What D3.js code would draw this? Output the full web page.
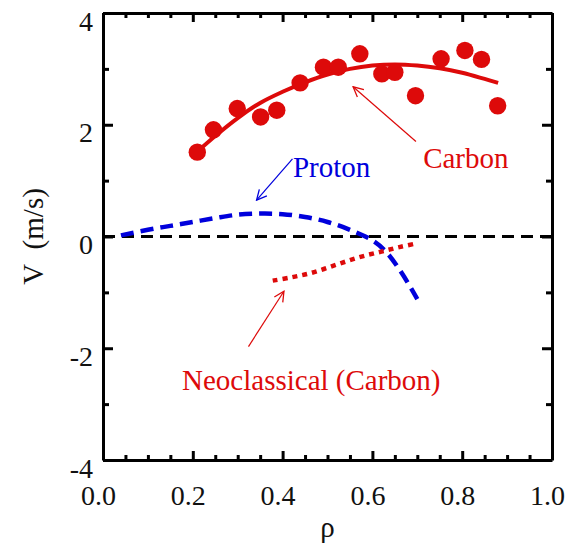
<!DOCTYPE html>
<html lang="en">
	<head>
		<meta charset="utf-8">
		<title>Rotation velocity vs rho</title>
		<script type="text/javascript" src="https://cdn.jsdelivr.net/npm/d3@7"></script>
		<style type="text/css">
			body { margin: 0; background: #fff; }
			svg { display: block; }
			.axis path, .axis line {
				stroke: #000;
				stroke-width: 3;
				}
			.axis text {
				font-family: "Liberation Serif", "Times New Roman", serif;
				font-size: 28px;
				fill: #111;
				}
			.label {
				font-family: "Liberation Serif", "Times New Roman", serif;
				font-size: 29px;
				}
		</style>
	</head>
	<body>
		<script type="text/javascript">

			var w = 574;
			var h = 544;
			var margin = {top: 13, right: 22, bottom: 84, left: 103};

			// measured carbon velocity (dots)
			var carbonRho = [0.21, 0.246, 0.299, 0.351, 0.387, 0.439, 0.491, 0.524, 0.572,
			                 0.621, 0.650, 0.696, 0.753, 0.806, 0.843, 0.879];
			var carbonV   = [1.51, 1.91, 2.29, 2.14, 2.26, 2.75, 3.03, 3.03, 3.27,
			                 2.91, 2.94, 2.52, 3.18, 3.33, 3.17, 2.34];

			// fit through the carbon data
			var fitRho = [0.21, 0.25, 0.30, 0.35, 0.40, 0.45, 0.50, 0.55, 0.60, 0.65, 0.70, 0.75, 0.80, 0.85, 0.88];
			var fitV   = [1.52, 1.80, 2.12, 2.39, 2.59, 2.76, 2.90, 3.00, 3.06, 3.08, 3.06, 3.01, 2.93, 2.82, 2.75];

			// proton (dashed blue)
			var protonRho = [0.04, 0.10, 0.15, 0.20, 0.25, 0.30, 0.35, 0.40, 0.45, 0.50, 0.55, 0.60, 0.63, 0.665, 0.70];
			var protonV   = [0.02, 0.12, 0.19, 0.26, 0.33, 0.39, 0.41, 0.40, 0.35, 0.26, 0.12, -0.07, -0.27, -0.65, -1.12];

			// neoclassical carbon (dotted red)
			var neoRho = [0.378, 0.42, 0.46, 0.50, 0.54, 0.58, 0.62, 0.66, 0.70];
			var neoV   = [-0.79, -0.73, -0.66, -0.56, -0.45, -0.35, -0.27, -0.19, -0.12];

			var xTicks = [0, 0.2, 0.4, 0.6, 0.8, 1.0];
			var xMinorTicks = [0.05, 0.1, 0.15, 0.25, 0.3, 0.35, 0.45, 0.5, 0.55, 0.65, 0.7, 0.75, 0.85, 0.9, 0.95];
			var yTicks = [-4, -2, 0, 2, 4];
			var yMinorTicks = [-3, -1, 1, 3];

			var red = "#dd0a0a";
			var blue = "#0000dc";

			var xScale = d3.scaleLinear()
					.domain([0, 1])
					.range([margin.left, w - margin.right]);

			var yScale = d3.scaleLinear()
					.domain([-4, 4])
					.range([h - margin.bottom, margin.top]);

			var svg = d3.select("body")
						.append("svg")
						.attr("width", w)
						.attr("height", h);

			var defs = svg.append("defs");
			[["arrowRed", red], ["arrowBlue", blue]].forEach(function(m){
				defs.append("marker")
					.attr("id", m[0])
					.attr("viewBox", "0 0 12 12")
					.attr("refX", 11).attr("refY", 6)
					.attr("markerWidth", 12).attr("markerHeight", 12)
					.attr("markerUnits", "userSpaceOnUse")
					.attr("orient", "auto")
					.append("path")
					.attr("d", "M1,1 L11,6 L1,11")
					.attr("fill", "none")
					.attr("stroke", m[1])
					.attr("stroke-width", 1.3);
			});

			// zero line
			svg.append("line")
				.attr("x1", xScale(0)).attr("x2", xScale(1))
				.attr("y1", yScale(0)).attr("y2", yScale(0))
				.attr("stroke", "#000")
				.attr("stroke-width", 3)
				.attr("stroke-dasharray", "12,7");

			// axes: major + minor ticks on all four sides, pointing inward
			var plotBottom = h - margin.bottom;
			var plotRight = w - margin.right;
			var fmtY = function(d){ return String(d); };   // plain hyphen for negatives

			var bottomAxis = svg.append("g").attr("class", "axis")
				.attr("transform", "translate(0," + plotBottom + ")")
				.call(d3.axisBottom(xScale).tickValues(xTicks).tickSize(-9).tickSizeOuter(0)
					.tickFormat(d3.format(".1f")));
			bottomAxis.selectAll("text").attr("dy", null).attr("y", 45).attr("x", -5);

			svg.append("g").attr("class", "axis")
				.attr("transform", "translate(0," + plotBottom + ")")
				.call(d3.axisBottom(xScale).tickValues(xMinorTicks).tickSize(-5).tickFormat(""))
				.select(".domain").remove();

			svg.append("g").attr("class", "axis")
				.attr("transform", "translate(0," + margin.top + ")")
				.call(d3.axisTop(xScale).tickValues(xTicks).tickSize(-9).tickSizeOuter(0).tickFormat(""));
			svg.append("g").attr("class", "axis")
				.attr("transform", "translate(0," + margin.top + ")")
				.call(d3.axisTop(xScale).tickValues(xMinorTicks).tickSize(-5).tickFormat(""))
				.select(".domain").remove();

			var leftAxis = svg.append("g").attr("class", "axis")
				.attr("transform", "translate(" + margin.left + ",0)")
				.call(d3.axisLeft(yScale).tickValues(yTicks).tickSize(-10).tickSizeOuter(0)
					.tickFormat(fmtY));
			leftAxis.selectAll("text").attr("dy", null).attr("x", -10).attr("y", 17);

			svg.append("g").attr("class", "axis")
				.attr("transform", "translate(" + margin.left + ",0)")
				.call(d3.axisLeft(yScale).tickValues(yMinorTicks).tickSize(-6).tickFormat(""))
				.select(".domain").remove();

			svg.append("g").attr("class", "axis")
				.attr("transform", "translate(" + plotRight + ",0)")
				.call(d3.axisRight(yScale).tickValues(yTicks).tickSize(-10).tickSizeOuter(0).tickFormat(""));
			svg.append("g").attr("class", "axis")
				.attr("transform", "translate(" + plotRight + ",0)")
				.call(d3.axisRight(yScale).tickValues(yMinorTicks).tickSize(-6).tickFormat(""))
				.select(".domain").remove();

			// lines
			var line = d3.line()
				.x(function(d){ return xScale(d[0]); })
				.y(function(d){ return yScale(d[1]); })
				.curve(d3.curveCatmullRom);

			svg.append("path")
				.datum(d3.zip(fitRho, fitV))
				.attr("d", line)
				.attr("fill", "none")
				.attr("stroke", red)
				.attr("stroke-width", 4);

			svg.append("path")
				.datum(d3.zip(protonRho, protonV))
				.attr("d", line)
				.attr("fill", "none")
				.attr("stroke", blue)
				.attr("stroke-width", 4.5)
				.attr("stroke-dasharray", "13,7");

			svg.append("path")
				.datum(d3.zip(neoRho, neoV))
				.attr("d", line)
				.attr("fill", "none")
				.attr("stroke", red)
				.attr("stroke-width", 4.5)
				.attr("stroke-dasharray", "5,5");

			svg.selectAll("circle.carbon")
				.data(d3.zip(carbonRho, carbonV))
				.enter()
				.append("circle")
				.attr("class", "carbon")
				.attr("cx", function(d){ return xScale(d[0]); })
				.attr("cy", function(d){ return yScale(d[1]); })
				.attr("r", 8.7)
				.attr("fill", red);

			// annotations: [text, x, y, colour, arrow from, arrow to] in data units
			var notes = [
				["Carbon", 0.713, 1.23, red, [0.697, 1.70], [0.557, 2.68], "arrowRed"],
				["Proton", 0.423, 1.06, blue, [0.422, 1.39], [0.342, 0.65], "arrowBlue"],
				["Neoclassical (Carbon)", 0.176, -2.75, red, [0.324, -1.97], [0.403, -0.98], "arrowRed"]
			];
			notes.forEach(function(n){
				svg.append("text")
					.attr("class", "label")
					.attr("x", xScale(n[1]))
					.attr("y", yScale(n[2]))
					.attr("fill", n[3])
					.text(n[0]);
				svg.append("line")
					.attr("x1", xScale(n[4][0])).attr("y1", yScale(n[4][1]))
					.attr("x2", xScale(n[5][0])).attr("y2", yScale(n[5][1]))
					.attr("stroke", n[3])
					.attr("stroke-width", 1.2)
					.attr("marker-end", "url(#" + n[6] + ")");
			});

			// axis titles
			svg.append("text")
				.attr("class", "label")
				.attr("x", (margin.left + plotRight) / 2)
				.attr("y", 537)
				.attr("text-anchor", "middle")
				.attr("fill", "#111")
				.text("ρ");

			svg.append("text")
				.attr("class", "label")
				.attr("transform", "translate(43," + yScale(0) + ") rotate(-90)")
				.attr("text-anchor", "middle")
				.attr("fill", "#111")
				.text("V\u00a0\u00a0(m/s)");

		</script>
	</body>
</html>
